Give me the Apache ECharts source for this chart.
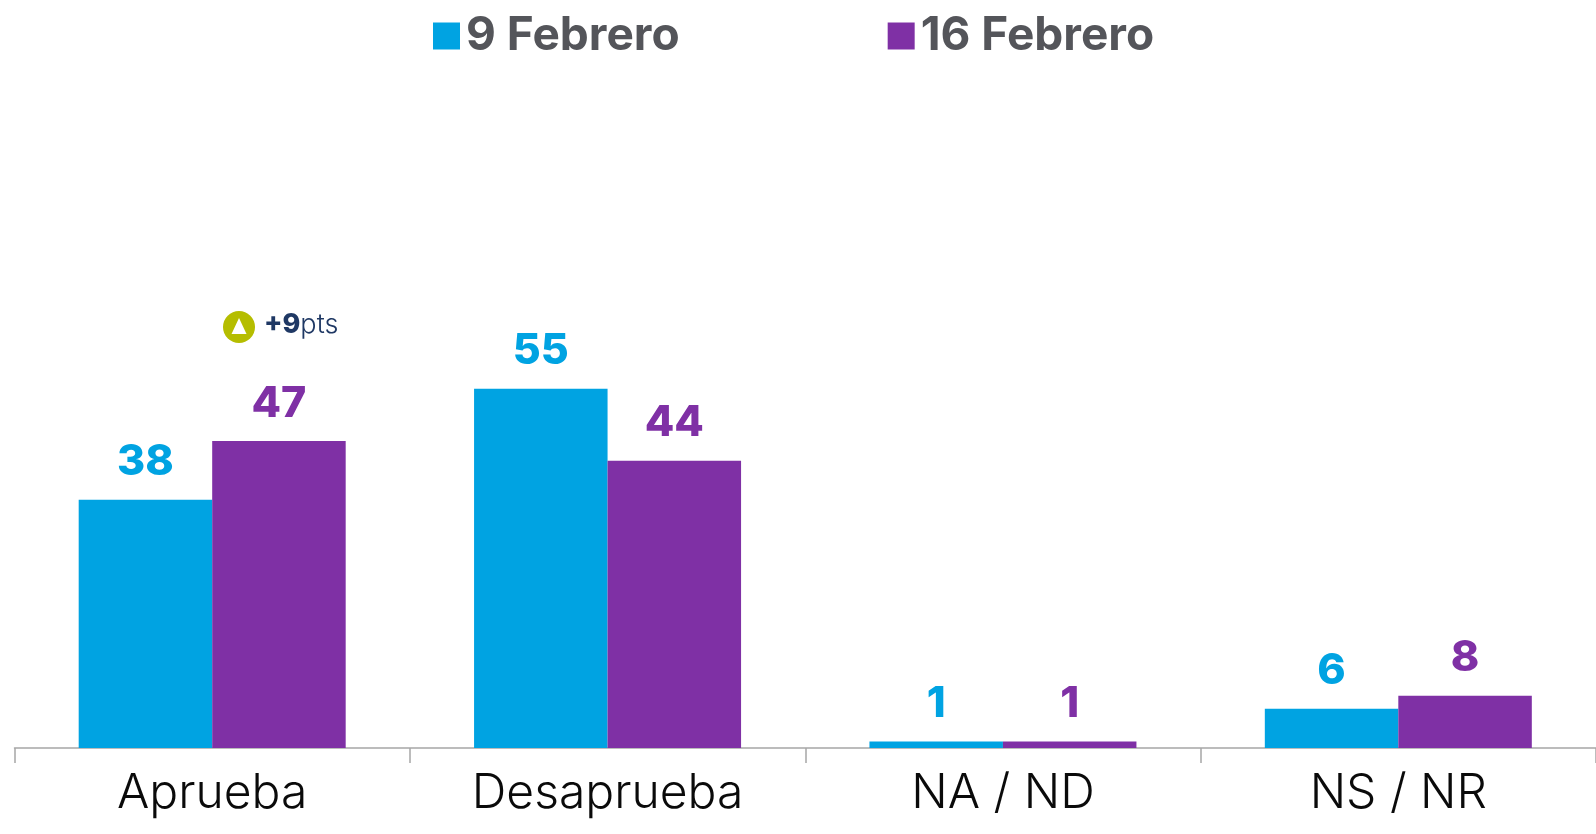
<!DOCTYPE html>
<html><head><meta charset="utf-8">
<style>html,body{margin:0;padding:0;background:#fff}#c{width:1596px;height:834px}</style>
<script src="https://cdn.jsdelivr.net/npm/echarts@6/dist/echarts.min.js"></script>
</head><body><div id="c"></div>
<script>
const categories = ['Aprueba', 'Desaprueba', 'NA / ND', 'NS / NR'];
const febrero9 = [38, 55, 1, 6];
const febrero16 = [47, 44, 1, 8];
const seriesNames = ['9 Febrero', '16 Febrero'];
const colors = ['#00A3E2', '#7F30A5'];
const FONT = 'Inter';
const chart = echarts.init(document.getElementById('c'), null, {renderer: 'canvas'});
const mk = (name, data, color) => ({
  name, type: 'bar', data, barWidth: 133.5, barGap: '0%',
  itemStyle: {color},
  label: {show: true, position: 'top', distance: 16, color, fontFamily: FONT, fontWeight: 800, fontSize: 43}
});
chart.setOption({
  animation: false,
  backgroundColor: '#fff',
  legend: {
    left: 428, top: 8, itemWidth: 27, itemHeight: 27, itemGap: 208, icon: 'rect',
    data: seriesNames,
    selectedMode: false,
    textStyle: {fontFamily: FONT, fontWeight: 700, fontSize: 46, padding: [0, 0, 0, 1]},
    formatter: n => n
  },
  grid: {left: 14.5, right: -20, top: 95, height: 653},
  xAxis: {
    type: 'category', data: categories,
    axisLine: {lineStyle: {color: '#A6A6A6', width: 1.5}},
    axisTick: {show: true, length: 15, lineStyle: {color: '#A6A6A6', width: 1.5}},
    axisLabel: {color: '#0A0A0A', fontFamily: FONT, fontWeight: 300, fontSize: 48, margin: 22, interval: 0}
  },
  yAxis: {type: 'value', min: 0, max: 100, show: false},
  series: [
    Object.assign(mk(seriesNames[0], febrero9, colors[0])),
    Object.assign(mk(seriesNames[1], febrero16, colors[1]))
  ],
  graphic: [
    {type: 'circle', shape: {cx: 239, cy: 327, r: 16}, style: {fill: '#B5BD00'}},
    {type: 'polygon', shape: {points: [[239, 318], [231.5, 334], [246.5, 334]]}, style: {fill: '#fff'}},
    {type: 'text', left: 264, top: 311, style: {
      rich: {
        a: {fontFamily: FONT, fontWeight: 800, fontSize: 27, fill: '#1F3864', color: '#1F3864'},
        b: {fontFamily: FONT, fontWeight: 300, fontSize: 27, fill: '#1F3864', color: '#1F3864'}
      },
      text: '{a|+9}{b|pts}'
    }}
  ]
});
</script></body></html>
